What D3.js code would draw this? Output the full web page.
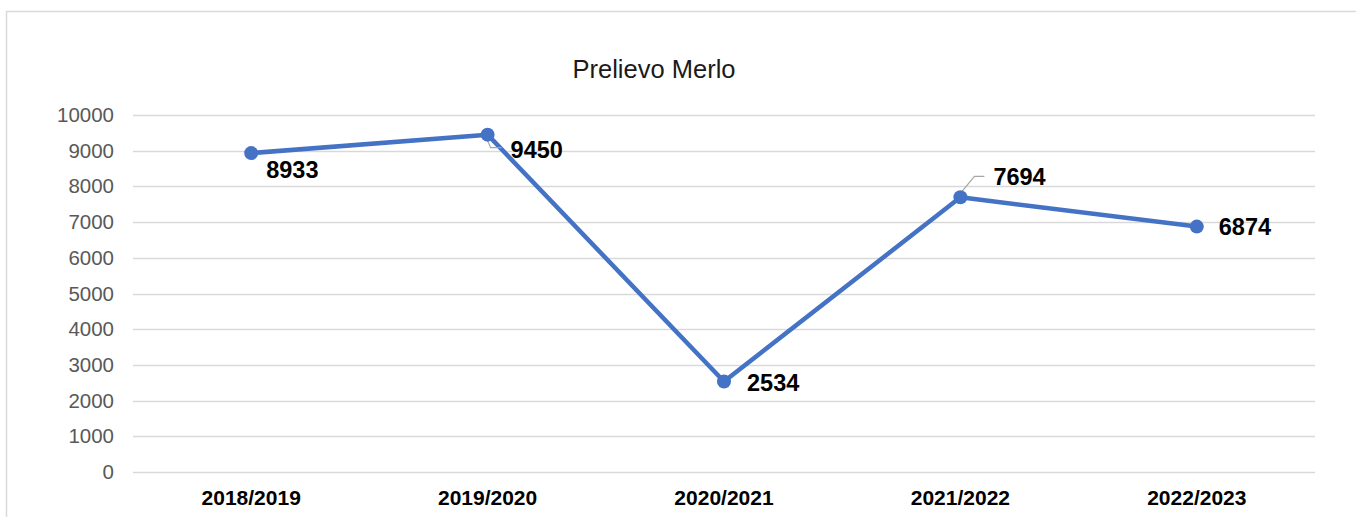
<!DOCTYPE html>
<html>
<head>
<meta charset="utf-8">
<script src="https://cdn.jsdelivr.net/npm/d3@7"></script>
<style>
  body { margin: 0; background: #fff; }
  svg { font-family: Arial, "Liberation Sans", sans-serif; }
</style>
</head>
<body>
<script>
// chart data
const seasons = ["2018/2019", "2019/2020", "2020/2021", "2021/2022", "2022/2023"];
const prelievo = [8933, 9450, 2534, 7694, 6874];
const yTicks = [0, 1000, 2000, 3000, 4000, 5000, 6000, 7000, 8000, 9000, 10000];

const width = 1356;
const height = 517;
const margin = { top: 115, right: 41, bottom: 45, left: 133 };

const svg = d3.select("body")
    .append("svg")
    .attr("width", width)
    .attr("height", height);

// outer chart frame
svg.append("rect")
    .attr("x", 6.5)
    .attr("y", 11.5)
    .attr("width", width + 20)
    .attr("height", height + 20)
    .attr("fill", "none")
    .attr("stroke", "#d9d9d9")
    .attr("stroke-width", 1.5);

svg.append("text")
    .attr("x", 654)
    .attr("y", 78)
    .attr("text-anchor", "middle")
    .attr("font-size", 25.5)
    .attr("fill", "#1a1a1a")
    .text("Prelievo Merlo");

const x = d3.scaleBand()
    .domain(seasons)
    .range([margin.left, width - margin.right]);

const y = d3.scaleLinear()
    .domain([0, 10000])
    .range([height - margin.bottom, margin.top]);

// gridlines
svg.append("g")
    .selectAll("line")
    .data(yTicks)
    .enter()
    .append("line")
    .attr("x1", margin.left)
    .attr("x2", width - margin.right)
    .attr("y1", d => Math.round(y(d)) + 0.5)
    .attr("y2", d => Math.round(y(d)) + 0.5)
    .attr("stroke", "#d9d9d9")
    .attr("stroke-width", 1.5);

const yAxis = d3.axisLeft(y)
    .tickValues(yTicks)
    .tickSize(0)
    .tickPadding(19)
    .tickFormat(d => d);

svg.append("g")
    .attr("transform", `translate(${margin.left},0)`)
    .call(yAxis)
    .call(g => g.select(".domain").remove())
    .selectAll("text")
    .attr("font-size", 20.5)
    .attr("fill", "#595959")
    .attr("font-family", "Arial, 'Liberation Sans', sans-serif");

const xAxis = d3.axisBottom(x).tickSize(0).tickPadding(18);

svg.append("g")
    .attr("transform", `translate(0,${height - margin.bottom})`)
    .call(xAxis)
    .call(g => g.select(".domain").remove())
    .selectAll("text")
    .attr("font-size", 21)
    .attr("font-weight", "bold")
    .attr("fill", "#000")
    .attr("font-family", "Arial, 'Liberation Sans', sans-serif");

const cx = d => x(d) + x.bandwidth() / 2;

const line = d3.line()
    .x((d, i) => cx(seasons[i]))
    .y(d => y(d));

svg.append("path")
    .datum(prelievo)
    .attr("d", line)
    .attr("fill", "none")
    .attr("stroke", "#4472c4")
    .attr("stroke-width", 4.5)
    .attr("stroke-linejoin", "round");

// leader lines for displaced labels
const leaders = [
    { i: 1, pts: [[0, 6], [3, 13], [14, 13]] },
    { i: 3, pts: [[0, -4], [14, -21], [24, -21]] }
];
svg.append("g")
    .selectAll("path")
    .data(leaders)
    .enter()
    .append("path")
    .attr("d", d => d3.line()(d.pts.map(p => [cx(seasons[d.i]) + p[0], y(prelievo[d.i]) + p[1]])))
    .attr("fill", "none")
    .attr("stroke", "#a6a6a6")
    .attr("stroke-width", 1.2);

svg.append("g")
    .selectAll("circle")
    .data(prelievo)
    .enter()
    .append("circle")
    .attr("cx", (d, i) => cx(seasons[i]))
    .attr("cy", d => y(d))
    .attr("r", 7)
    .attr("fill", "#4472c4");

// label offsets from each point
const labelDx = [15, 23, 23, 33, 22];
const labelDy = [25, 23, 9, -12, 8];

svg.append("g")
    .selectAll("text")
    .data(prelievo)
    .enter()
    .append("text")
    .attr("x", (d, i) => cx(seasons[i]) + labelDx[i])
    .attr("y", (d, i) => y(d) + labelDy[i])
    .attr("font-size", 23.5)
    .attr("font-weight", "bold")
    .attr("fill", "#000")
    .text(d => d);
</script>
</body>
</html>
